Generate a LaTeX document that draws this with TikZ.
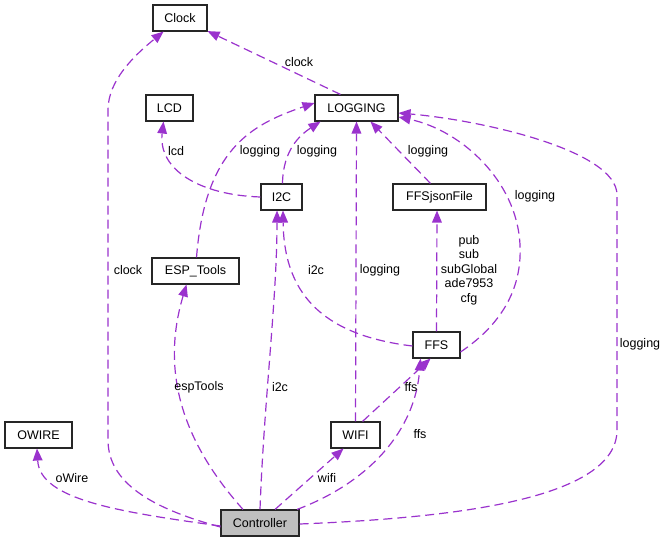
\documentclass[tikz,border=0pt]{standalone}
\usepackage{fontspec}
\setmainfont{Liberation Sans}
\usetikzlibrary{arrows.meta}
\definecolor{edgec}{RGB}{154,50,205}
\definecolor{ctrlfill}{RGB}{191,191,191}
\tikzset{
  cls/.style={draw=black!85, line width=1.1pt, fill=white, inner sep=0pt, minimum height=26pt, font=\fontsize{12.5}{14}\selectfont},
  edge/.style={draw=edgec, line width=1.2pt, dash pattern=on 9pt off 5pt, -{Triangle[length=12pt,width=10pt,fill=edgec,line width=0pt]}},
  lbl/.style={inner sep=0pt, font=\fontsize{12.5}{14.5}\selectfont, align=center}
}
\begin{document}
\begin{tikzpicture}[x=1pt,y=-1pt]
\useasboundingbox (0,0) rectangle (668,543);
% nodes
\node[cls, minimum width=54pt] (Clock) at (180,18) {Clock};
\node[cls, minimum width=83pt] (LOGGING) at (356.5,108) {LOGGING};
\node[cls, minimum width=47pt] (LCD) at (169.5,108) {LCD};
\node[cls, minimum width=41pt] (I2C) at (281.5,197) {I2C};
\node[cls, minimum width=93pt] (FFSjson) at (439.5,197) {FFSjsonFile};
\node[cls, minimum width=87pt] (ESP) at (195.5,271) {ESP\_Tools};
\node[cls, minimum width=47pt] (FFS) at (436.5,345) {FFS};
\node[cls, minimum width=67pt] (OWIRE) at (38.5,435) {OWIRE};
\node[cls, minimum width=49pt] (WIFI) at (355.5,435) {WIFI};
\node[cls, minimum width=78pt, fill=ctrlfill] (Ctrl) at (260,523) {Controller};
% edges
\draw[edge] ([yshift=-4pt]Ctrl.west) .. controls (150,508) and (108,482) .. (108,440) -- (108,110) .. controls (108,80) and (135,55) .. (Clock);
\draw[edge] ([xshift=-16pt]LOGGING.north) -- (Clock);
\draw[edge] (I2C.west) .. controls (200,195) and (158,170) .. ([xshift=-6pt]LCD.south);
\draw[edge] ([xshift=1pt]I2C.north) .. controls (283,150) and (300,135) .. ([xshift=-36pt]LOGGING.south);
\draw[edge] ([xshift=1pt]ESP.north) .. controls (205,150) and (250,125) .. ([yshift=5pt]LOGGING.west);
\draw[edge] (WIFI.north) -- (LOGGING.south);
\draw[edge] ([xshift=-9pt]FFSjson.north) -- ([xshift=14pt]LOGGING.south);
\draw[edge] ([yshift=-7pt]FFS.east) .. controls (505,322) and (522,285) .. (520,245) .. controls (517,180) and (460,130) .. ([yshift=-9pt]LOGGING.east);
\draw[edge] ([yshift=-1pt]Ctrl.east) .. controls (450,518) and (617,500) .. (617,430) -- (617,195) .. controls (617,150) and (480,120) .. ([yshift=-5pt]LOGGING.east);
\draw[edge] (FFS.north) -- ([xshift=-2.5pt]FFSjson.south);
\draw[edge] ([yshift=-1pt]FFS.west) .. controls (330,336) and (284,300) .. ([xshift=1.5pt]I2C.south);
\draw[edge] (Ctrl.north) .. controls (264,400) and (277,300) .. ([xshift=-4.5pt]I2C.south);
\draw[edge] ([xshift=-17pt]Ctrl.north) .. controls (190,450) and (158,380) .. ([xshift=-9pt]ESP.south);
\draw[edge] ([yshift=-3pt]Ctrl.west) .. controls (120,512) and (40,500) .. ([xshift=-1.5pt]OWIRE.south);
\draw[edge] ([xshift=15pt]Ctrl.north) -- ([xshift=-12pt]WIFI.south);
\draw[edge] ([xshift=37pt]Ctrl.north) .. controls (370,482) and (415,430) .. ([xshift=-16pt]FFS.south);
\draw[edge] ([xshift=7pt]WIFI.north) -- ([xshift=-6pt]FFS.south);
% labels
\node[lbl] (l1) at (128,270) {clock};
\node[lbl] (l2) at (299,62) {clock};
\node[lbl] (l3) at (176,151) {lcd};
\node[lbl] (l4) at (260,151) {logging};
\node[lbl] (l5) at (317,151) {logging};
\node[lbl] (l6) at (428,151) {logging};
\node[lbl] (l7) at (535,196) {logging};
\node[lbl] (l8) at (316,270) {i2c};
\node[lbl] (l9) at (380,270) {logging};
\node[lbl] (l10) at (469,270) {pub\\sub\\subGlobal\\ade7953\\cfg};
\node[lbl] (l11) at (199,387) {espTools};
\node[lbl] (l12) at (280,387) {i2c};
\node[lbl] (l13) at (411,387) {ffs};
\node[lbl] (l14) at (420,434) {ffs};
\node[lbl] (l15) at (640,344) {logging};
\node[lbl] (l16) at (72,478) {oWire};
\node[lbl] (l17) at (327,478) {wifi};
\end{tikzpicture}
\end{document}
